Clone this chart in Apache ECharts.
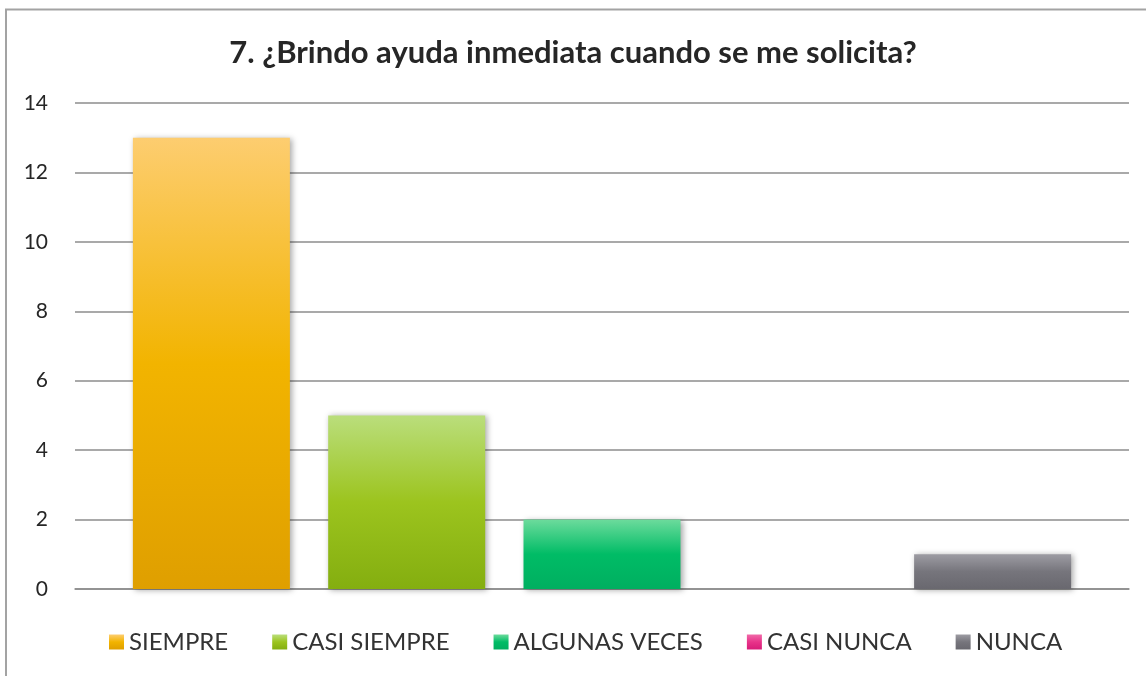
<!DOCTYPE html>
<html lang="es">
<head>
<meta charset="UTF-8">
<title>7. ¿Brindo ayuda inmediata cuando se me solicita?</title>
<script src="https://cdn.jsdelivr.net/npm/echarts@6/dist/echarts.min.js"></script>
<style>
  html, body { margin: 0; padding: 0; background: #fff; }
  #chart { width: 1146px; height: 676px; }
</style>
</head>
<body>
<div id="chart"></div>
<script>
  const titleText = '7. ¿Brindo ayuda inmediata cuando se me solicita?';
  const categories = [''];
  const seriesNames = ['SIEMPRE', 'CASI SIEMPRE', 'ALGUNAS VECES', 'CASI NUNCA', 'NUNCA'];
  const seriesValues = [13, 5, 2, 0, 1];
  const yTicks = [0, 14, 2];

  // gradient stops top -> middle -> bottom
  const palette = [
    ['#fdcd70', '#f2b400', '#df9f00'],
    ['#bade7c', '#9cc41e', '#84ae10'],
    ['#6cdb9c', '#00bc66', '#00af60'],
    ['#f06aa8', '#e8338a', '#d81c78'],
    ['#9d9ca3', '#76757c', '#69686f']
  ];

  function grad(c) {
    return new echarts.graphic.LinearGradient(0, 0, 0, 1, [
      { offset: 0, color: c[0] },
      { offset: 0.5, color: c[1] },
      { offset: 1, color: c[2] }
    ]);
  }

  const chart = echarts.init(document.getElementById('chart'));

  const series = seriesNames.map((name, i) => ({
    name: name,
    type: 'bar',
    data: [seriesValues[i]],
    barWidth: 157,
    barGap: '24.4%',
    itemStyle: {
      color: grad(palette[i]),
      shadowBlur: 6,
      shadowColor: 'rgba(0,0,0,0.35)',
      shadowOffsetX: 2,
      shadowOffsetY: 1
    }
  }));

  chart.setOption({
    animation: false,
    title: {
      text: titleText,
      left: 'center',
      top: 32,
      textStyle: {
        fontFamily: 'Lato',
        fontWeight: 'bold',
        fontSize: 31,
        color: '#262626'
      }
    },
    graphic: [{
      type: 'rect',
      shape: { x: 6, y: 9.5, width: 1200, height: 700 },
      style: { fill: 'none', stroke: '#a3a3a3', lineWidth: 2 },
      silent: true
    }],
    legend: {
      bottom: 17,
      left: 104,
      itemWidth: 15,
      itemHeight: 15,
      itemGap: 44,
      icon: 'rect',
      textStyle: { fontFamily: 'Lato', fontSize: 24, color: '#333' },
      data: seriesNames
    },
    grid: { left: 75, right: 17, top: 103, bottom: 87 },
    xAxis: {
      type: 'category',
      data: categories,
      axisLine: { lineStyle: { color: '#8c8c8c', width: 1.5 } },
      axisTick: { show: false },
      axisLabel: { show: false }
    },
    yAxis: {
      type: 'value',
      min: yTicks[0],
      max: yTicks[1],
      interval: yTicks[2],
      axisLine: { show: false },
      axisTick: { show: false },
      axisLabel: { fontFamily: 'Lato', fontSize: 21, color: '#262626', margin: 27 },
      splitLine: { lineStyle: { color: '#8c8c8c', width: 1.5 } }
    },
    series: series
  });
</script>
</body>
</html>
